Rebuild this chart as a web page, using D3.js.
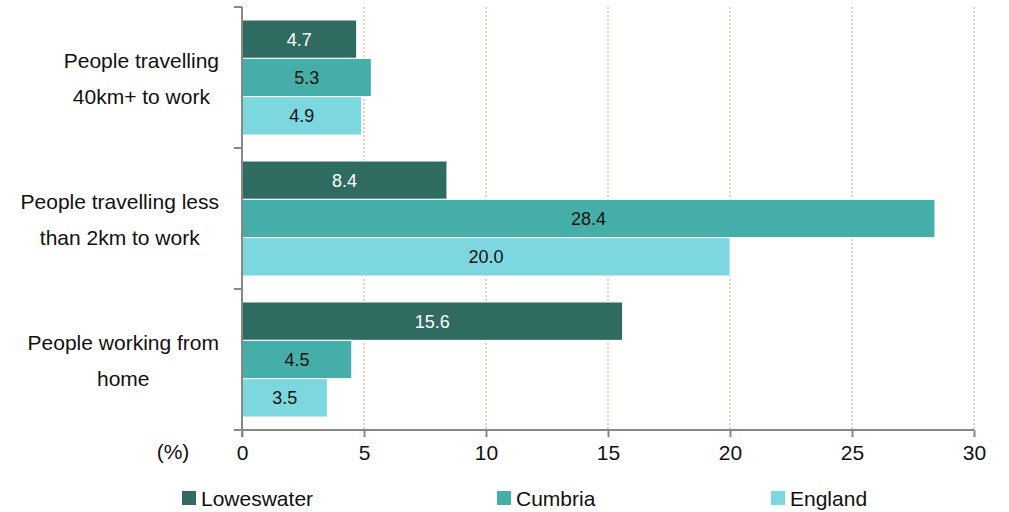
<!DOCTYPE html>
<html>
<head>
<meta charset="utf-8">
<script src="https://cdn.jsdelivr.net/npm/d3@7"></script>
<style>
  html, body { margin: 0; padding: 0; background: #fff; }
  svg text { font-family: "Liberation Sans", Arial, sans-serif; fill: #111; }
</style>
</head>
<body>
<svg id="chart" width="1009" height="512"></svg>
<script>
// Travel-to-work measures, percentage of working residents
const categories = [
  ["People travelling", "40km+ to work"],
  ["People travelling less", "than 2km to work"],
  ["People working from", "home"]
];
const seriesNames = ["Loweswater", "Cumbria", "England"];
const loweswater = [4.7, 8.4, 15.6];
const cumbria = [5.3, 28.4, 4.5];
const england = [4.9, 20.0, 3.5];
const xTicks = [0, 5, 10, 15, 20, 25, 30];

const seriesValues = [loweswater, cumbria, england];
const colors = ["#2f6b60", "#46aea9", "#7dd7de"];
const labelColors = ["#ffffff", "#111111", "#111111"];

const svg = d3.select("#chart");
const plot = { left: 242, right: 974, top: 7, bottom: 430 };

const x = d3.scaleLinear().domain([0, 30]).range([plot.left, plot.right]);
const y = d3.scaleBand().domain(d3.range(categories.length)).range([plot.top, plot.bottom]).padding(0);
const sub = d3.scaleBand().domain(d3.range(seriesNames.length))
  .range([13, y.bandwidth() - 13]).padding(0);

// dotted vertical gridlines
svg.append("g").selectAll("line")
  .data(xTicks.filter(t => t > 0))
  .join("line")
  .attr("x1", d => x(d)).attr("x2", d => x(d))
  .attr("y1", plot.top).attr("y2", plot.bottom)
  .attr("stroke", "#dcd6b8").attr("stroke-width", 2)
  .attr("stroke-dasharray", "2,2");

// bars
const groups = svg.append("g").selectAll("g")
  .data(categories.map((c, i) => i))
  .join("g")
  .attr("transform", i => `translate(0,${y(i)})`);

groups.selectAll("rect")
  .data(i => seriesValues.map((vals, s) => ({ s, v: vals[i] })))
  .join("rect")
  .attr("x", x(0))
  .attr("y", d => sub(d.s))
  .attr("width", d => x(d.v) - x(0))
  .attr("height", sub.bandwidth())
  .attr("fill", d => colors[d.s])
  .attr("stroke", "#fff").attr("stroke-width", 1);

groups.selectAll("text.val")
  .data(i => seriesValues.map((vals, s) => ({ s, v: vals[i] })))
  .join("text")
  .attr("class", "val")
  .attr("x", d => (x(0) + x(d.v)) / 2)
  .attr("y", d => sub(d.s) + sub.bandwidth() / 2)
  .attr("dy", "0.36em")
  .attr("text-anchor", "middle")
  .style("font-size", "18px")
  .style("fill", d => labelColors[d.s])
  .text(d => d3.format(".1f")(d.v));

// category labels: each wrapped block sits flush against the axis, lines centred within it
const labelRight = 219;
const catLabels = svg.append("g").selectAll("text")
  .data(categories)
  .join("text")
  .attr("text-anchor", "middle")
  .style("font-size", "21px");
catLabels.each(function (lines, i) {
  const cy = y(i) + y.bandwidth() / 2;
  const spans = d3.select(this).selectAll("tspan")
    .data(lines)
    .join("tspan")
    .attr("y", (d, k) => cy + (k === 0 ? -17 : 19))
    .attr("dy", "0.35em")
    .text(d => d);
  const widest = d3.max(spans.nodes(), n => n.getComputedTextLength());
  spans.attr("x", labelRight - widest / 2);
});

// y axis with ticks at band boundaries
const axisColor = "#888";
svg.append("line")
  .attr("x1", plot.left).attr("x2", plot.left)
  .attr("y1", plot.top).attr("y2", plot.bottom + 7)
  .attr("stroke", axisColor).attr("stroke-width", 2);
svg.append("g").selectAll("line")
  .data(d3.range(categories.length + 1))
  .join("line")
  .attr("x1", plot.left - 8).attr("x2", plot.left)
  .attr("y1", i => plot.top + i * y.bandwidth())
  .attr("y2", i => plot.top + i * y.bandwidth())
  .attr("stroke", axisColor).attr("stroke-width", 2);

// x axis
const xAxis = d3.axisBottom(x).tickValues(xTicks).tickSize(7).tickPadding(8);
const gx = svg.append("g")
  .attr("transform", `translate(0,${plot.bottom})`)
  .call(xAxis);
gx.select(".domain").attr("stroke", axisColor).attr("stroke-width", 2)
  .attr("d", `M${plot.left},0H${plot.right}`);
gx.selectAll(".tick line").attr("stroke", axisColor).attr("stroke-width", 2);
gx.selectAll(".tick text")
  .style("font-size", "21px")
  .style("font-family", "'Liberation Sans', Arial, sans-serif")
  .attr("fill", "#111");

svg.append("text")
  .attr("x", 173).attr("y", 452)
  .attr("dy", "0.35em")
  .attr("text-anchor", "middle")
  .style("font-size", "21px")
  .text("(%)");

// legend
const legendX = [182, 497, 771];
const legend = svg.append("g").selectAll("g")
  .data(seriesNames)
  .join("g")
  .attr("transform", (d, i) => `translate(${legendX[i]},491)`);
legend.append("rect")
  .attr("width", 14).attr("height", 14)
  .attr("fill", (d, i) => colors[i]);
legend.append("text")
  .attr("x", 19).attr("y", 7)
  .attr("dy", "0.36em")
  .style("font-size", "21px")
  .text(d => d);
</script>
</body>
</html>
